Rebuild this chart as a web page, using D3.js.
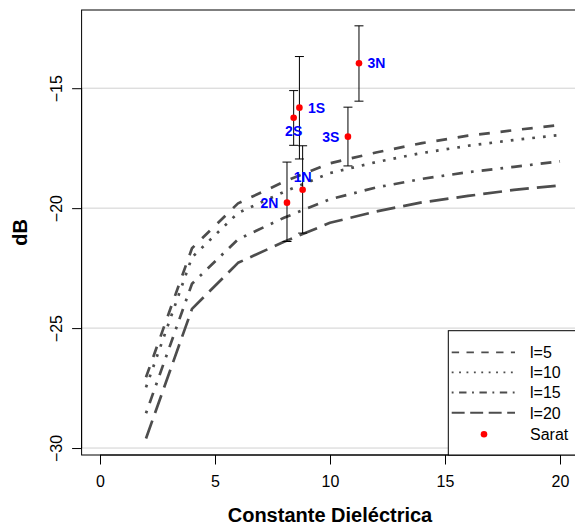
<!DOCTYPE html>
<html>
<head>
<meta charset="utf-8">
<script src="https://cdn.jsdelivr.net/npm/d3@7/dist/d3.min.js"></script>
<style>
  html, body { margin: 0; padding: 0; background: #fff; }
  svg { display: block; font-family: "Liberation Sans", Arial, Helvetica, sans-serif; }
</style>
</head>
<body>
<svg id="chart" width="575" height="530"></svg>
<script>
// Dielectric constant values where the model curves are evaluated
const xVals = [2, 4, 6, 8, 10, 12, 14, 16, 18, 20];

// Model backscatter (dB) for each roughness length l
const seriesNames = ["l=5", "l=10", "l=15", "l=20"];
const l5  = [-27.05, -21.67, -19.80, -18.90, -18.13, -17.68, -17.29, -16.98, -16.75, -16.53];
const l10 = [-27.47, -22.05, -20.20, -19.32, -18.54, -18.08, -17.70, -17.40, -17.16, -16.95];
const l15 = [-28.55, -23.15, -21.30, -20.40, -19.63, -19.14, -18.78, -18.50, -18.28, -18.05];
const l20 = [-29.60, -24.20, -22.28, -21.40, -20.61, -20.14, -19.76, -19.49, -19.24, -19.05];
const seriesValues = [l5, l10, l15, l20];

// Field samples (Sarat): dielectric constant, mean dB and error range
const sampleNames = ["1N", "1S", "2N", "2S", "3N", "3S"];
const sampleX     = [8.81, 8.67, 8.13, 8.42, 11.26, 10.78];
const sampleY     = [-19.23, -15.81, -19.77, -16.23, -13.96, -17.02];
const sampleLow   = [-21.04, -17.95, -21.39, -17.38, -15.54, -18.24];
const sampleHigh  = [-17.40, -13.68, -18.08, -15.10, -12.40, -15.79];
const labelSide   = ["above", "right", "left", "below", "right", "left"];

// Axis ticks
const xTicks = [0, 5, 10, 15, 20];
const yTicks = [-30, -25, -20, -15];

const svg = d3.select("#chart");
const pLeft = 81.6, pRight = 578.4, pTop = 10, pBottom = 455;

const x = d3.scaleLinear().domain([-0.8, 20.8]).range([pLeft, pRight]);
const y = d3.scaleLinear().domain([-30.29, -11.74]).range([pBottom, pTop]);

const curveColor = "#4d4d4d";
const curveDash = ["10.8,10.8", "2.7,8.1", "2.7,8.1,10.8,8.1", "18.9,8.1"];
const legendDash = ["7.4,7.4", "1.85,5.55", "1.85,5.55,7.4,5.55", "12.95,5.55"];

svg.append("rect").attr("width", 575).attr("height", 530).attr("fill", "#fff");

svg.append("defs").append("clipPath").attr("id", "plotClip")
  .append("rect").attr("x", pLeft).attr("y", pTop)
  .attr("width", pRight - pLeft).attr("height", pBottom - pTop);

const plot = svg.append("g").attr("clip-path", "url(#plotClip)");

// Horizontal reference lines
plot.selectAll("line.grid").data(yTicks).join("line")
  .attr("class", "grid")
  .attr("x1", pLeft).attr("x2", pRight)
  .attr("y1", d => y(d)).attr("y2", d => y(d))
  .attr("stroke", "#d0d0d0").attr("stroke-width", 1);

// Model curves
const line = d3.line().x((d, i) => x(xVals[i])).y(d => y(d));
plot.selectAll("path.curve").data(seriesValues).join("path")
  .attr("class", "curve")
  .attr("d", d => line(d))
  .attr("fill", "none")
  .attr("stroke", curveColor)
  .attr("stroke-width", 2.7)
  .attr("stroke-linecap", "butt")
  .attr("stroke-linejoin", "round")
  .attr("stroke-dasharray", (d, i) => curveDash[i]);

// Error bars
const samples = sampleNames.map((n, i) => ({
  name: n, x: sampleX[i], y: sampleY[i], lo: sampleLow[i], hi: sampleHigh[i], side: labelSide[i]
}));
const capHalf = 4.5;
const eb = plot.selectAll("g.eb").data(samples).join("g").attr("class", "eb");
eb.append("line")
  .attr("x1", d => x(d.x)).attr("x2", d => x(d.x))
  .attr("y1", d => y(d.lo)).attr("y2", d => y(d.hi))
  .attr("stroke", "#000").attr("stroke-width", 1);
eb.append("line")
  .attr("x1", d => x(d.x) - capHalf).attr("x2", d => x(d.x) + capHalf)
  .attr("y1", d => y(d.lo)).attr("y2", d => y(d.lo))
  .attr("stroke", "#000").attr("stroke-width", 1);
eb.append("line")
  .attr("x1", d => x(d.x) - capHalf).attr("x2", d => x(d.x) + capHalf)
  .attr("y1", d => y(d.hi)).attr("y2", d => y(d.hi))
  .attr("stroke", "#000").attr("stroke-width", 1);

// Sample points
plot.selectAll("circle.pt").data(samples).join("circle")
  .attr("class", "pt")
  .attr("cx", d => x(d.x)).attr("cy", d => y(d.y))
  .attr("r", 3.3).attr("fill", "#ff0000");

// Sample labels
const off = 8.5, vOff = 13;
plot.selectAll("text.lab").data(samples).join("text")
  .attr("class", "lab")
  .attr("x", d => d.side === "right" ? x(d.x) + off : d.side === "left" ? x(d.x) - off : x(d.x))
  .attr("y", d => (d.side === "above" ? y(d.y) - vOff : d.side === "below" ? y(d.y) + vOff : y(d.y)) + 5)
  .attr("text-anchor", d => d.side === "right" ? "start" : d.side === "left" ? "end" : "middle")
  .attr("font-size", 14).attr("font-weight", "bold").attr("fill", "#0000ff")
  .text(d => d.name);

// Plot frame
svg.append("rect").attr("x", pLeft).attr("y", pTop)
  .attr("width", pRight - pLeft).attr("height", pBottom - pTop)
  .attr("fill", "none").attr("stroke", "#000").attr("stroke-width", 1);

// Axes
const xAxis = svg.append("g").attr("transform", `translate(0,${pBottom})`)
  .call(d3.axisBottom(x).tickValues(xTicks).tickSize(9.5).tickSizeOuter(0));
xAxis.select(".domain").attr("d", `M${x(xTicks[0])},0H${x(xTicks[xTicks.length - 1])}`)
  .attr("stroke", "#000");
xAxis.selectAll(".tick line").attr("stroke", "#000");
xAxis.selectAll(".tick text").attr("y", 32).attr("dy", 0)
  .attr("font-size", 16).attr("font-family", "Liberation Sans, Arial, sans-serif").attr("fill", "#000");

const yAxis = svg.append("g").attr("transform", `translate(${pLeft},0)`)
  .call(d3.axisLeft(y).tickValues(yTicks).tickSize(9.5).tickSizeOuter(0)
    .tickFormat(d => String(d).replace("-", "\u2212")));
yAxis.select(".domain").attr("d", `M0,${y(yTicks[0])}V${y(yTicks[yTicks.length - 1])}`)
  .attr("stroke", "#000");
yAxis.selectAll(".tick line").attr("stroke", "#000");
yAxis.selectAll(".tick text")
  .attr("transform", "rotate(-90)")
  .attr("x", 0).attr("y", -19.6).attr("dy", 0)
  .attr("text-anchor", "middle")
  .attr("font-size", 16).attr("font-family", "Liberation Sans, Arial, sans-serif").attr("fill", "#000");

// Axis titles
svg.append("text").attr("x", (pLeft + pRight) / 2).attr("y", 521.5)
  .attr("text-anchor", "middle").attr("font-size", 20).attr("font-weight", "bold")
  .text("Constante Dieléctrica");
svg.append("text")
  .attr("transform", `translate(26.5,${(pTop + pBottom) / 2}) rotate(-90)`)
  .attr("text-anchor", "middle").attr("font-size", 20).attr("font-weight", "bold")
  .text("dB");

// Legend
const lg = svg.append("g");
lg.append("rect").attr("x", 448.3).attr("y", 330.7)
  .attr("width", pRight - 448.3).attr("height", pBottom - 330.7)
  .attr("fill", "#fff").attr("stroke", "#000").attr("stroke-width", 1);
const rowY = [352.3, 372.3, 392.5, 412.7];
seriesNames.forEach((name, i) => {
  lg.append("line").attr("x1", 451.7).attr("x2", 515)
    .attr("y1", rowY[i]).attr("y2", rowY[i])
    .attr("stroke", curveColor).attr("stroke-width", 1.85)
    .attr("stroke-dasharray", legendDash[i]);
  lg.append("text").attr("x", 530).attr("y", rowY[i] + 5.8)
    .attr("font-size", 16).text(name);
});
lg.append("circle").attr("cx", 484).attr("cy", 434.3).attr("r", 3.3).attr("fill", "#ff0000");
lg.append("text").attr("x", 530).attr("y", 434.3 + 5.8).attr("font-size", 16).text("Sarat");
</script>
</body>
</html>
